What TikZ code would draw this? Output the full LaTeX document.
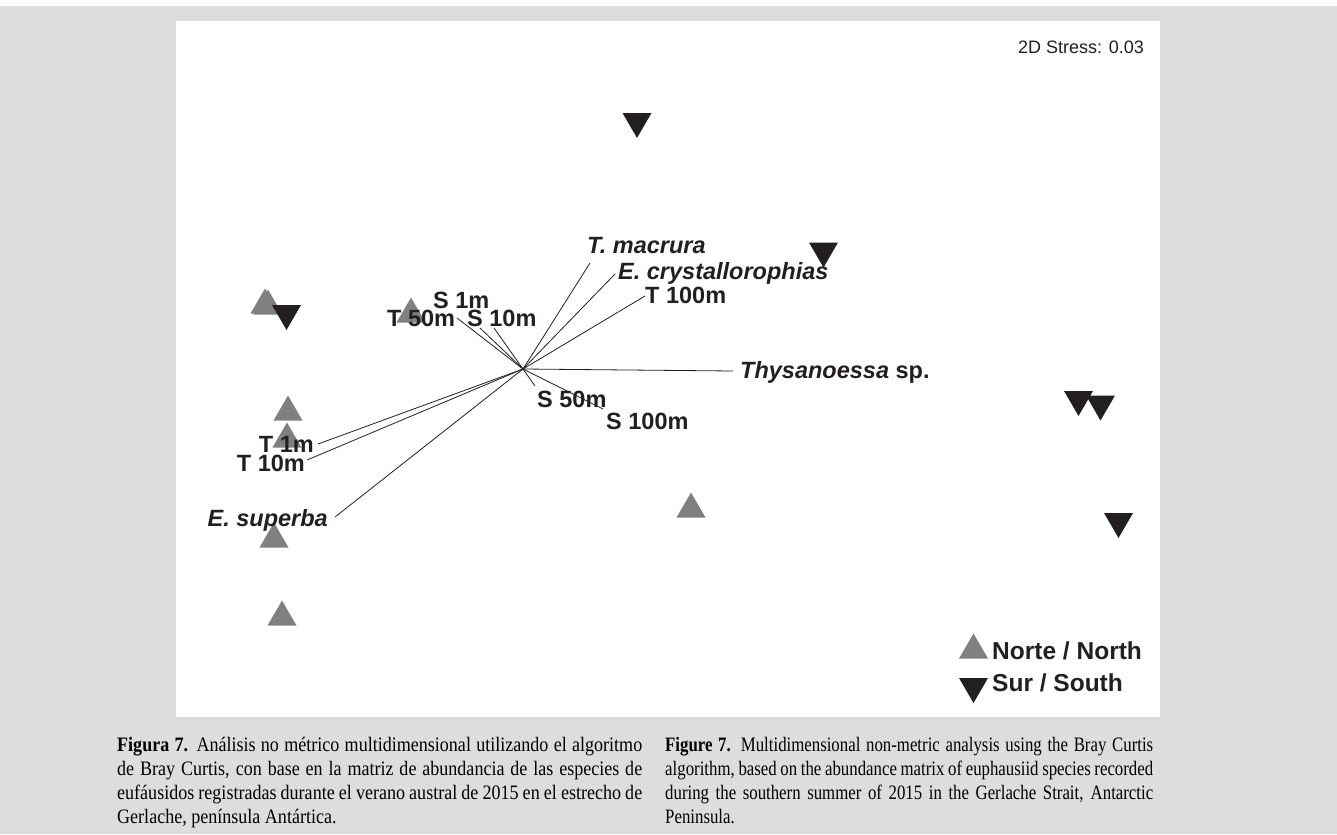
\documentclass[tikz,border=0pt]{standalone}
\usepackage{fontspec}
\setmainfont{Liberation Serif}
\setsansfont{Liberation Sans}
\newfontfamily\capfont[FakeStretch=0.88]{Liberation Serif}
\newfontfamily\capfonten[FakeStretch=0.82]{Liberation Serif}
\usetikzlibrary{calc}
\definecolor{panelgray}{RGB}{220,221,223}
\definecolor{inkblack}{RGB}{35,31,32}
\definecolor{northgray}{RGB}{128,128,128}
\tikzset{
	NT/.style={fill=northgray},
	ST/.style={fill=inkblack},
	vec/.style={draw=inkblack, line width=0.8bp}
}
\tikzset{
	VL/.style={font=\sffamily\bfseries\fontsize{23.5bp}{26bp}\selectfont, text=inkblack, inner sep=0pt},
	VI/.style={font=\sffamily\bfseries\itshape\fontsize{23.5bp}{26bp}\selectfont, text=inkblack, inner sep=0pt},
	LG/.style={font=\sffamily\bfseries\fontsize{24.5bp}{26bp}\selectfont, text=inkblack, inner sep=0pt, anchor=base west},
	CAP/.style={anchor=north west, inner sep=0pt, align=justify, text=black}
}

\begin{document}
\begin{tikzpicture}[x=1bp,y=-1bp]
		\useasboundingbox (0,0) rectangle (1337,834);
		\fill[white] (0,0) rectangle (1337,834);
		\fill[panelgray] (0,6) rectangle (1337,834);
		\fill[white] (176,21) rectangle (1160,717);
		\node[anchor=base east, inner sep=0pt, text=inkblack, font=\sffamily\fontsize{18bp}{20bp}\selectfont] (stress) at (1144,53) {2D Stress: 0.03};
		% Norte / North
		\foreach \x/\y in {265/301, 268/302, 411/310, 288/408, 287/435, 274/535, 282/613, 691/505, 973.5/646}{
			\fill[NT] (\x,\y) +(-14.5,12.5) -- +(0,-12.5) -- +(14.5,12.5) -- cycle;
		}
		% Sur / South
		\foreach \x/\y in {637/125.5, 823.5/255, 286.5/317.5, 1078.5/403.5, 1100.5/408, 1118.5/525.5, 973.5/690.5}{
			\fill[ST] (\x,\y) +(-14.5,-12.5) -- +(14.5,-12.5) -- +(0,12.5) -- cycle;
		}
		\coordinate (o) at (523,369);
		\foreach \n/\x/\y in {mac/590/263, cry/615/274, t100/645/296, thy/733/371, s50/535/386, s100/603/409, t50/457/318, s1/480/328, s10/494/328, t1/318/444, t10/307/460, sup/335/517}{
			\coordinate (\n) at (\x,\y);
			\draw[vec] (o) -- (\n);
		}
		\node[VI, anchor=base west] (lmac) at (587,253) {T. macrura};
		\node[VI, anchor=base west] (lcry) at (618,279) {E. crystallorophias};
		\node[VL, anchor=base west] (lt100) at (645,303) {T 100m};
		\node[VL, anchor=base west] (lthy) at (740,378) {\textit{Thysanoessa} sp.};
		\node[VL, anchor=base west] (ls50) at (537,407) {S 50m};
		\node[VL, anchor=base west] (ls100) at (606,429) {S 100m};
		\node[VL, anchor=base west] (ls1) at (433,308) {S 1m};
		\node[VL, anchor=base west] (ls10) at (467,326) {S 10m};
		\node[VL, anchor=base west] (lt50) at (387,326) {T 50m};
		\node[VL, anchor=base east] (lt1) at (314,452) {T 1m};
		\node[VL, anchor=base east] (lt10) at (305,471) {T 10m};
		\node[VI, anchor=base east] (lsup) at (328,526) {E. superba};
		\node[LG] (lnorte) at (992,659) {Norte / North};
		\node[LG] (lsur) at (992,691) {Sur / South};
		% pie de figura
		\node[CAP, text width=525bp, font=\capfont\fontsize{20.5bp}{24bp}\selectfont] (capes) at (117,737) {\textbf{Figura 7.} Análisis no métrico multidimensional utilizando el algoritmo\linebreak de Bray Curtis, con base en la matriz de abundancia de las especies de\linebreak eufáusidos registradas durante el verano austral de 2015 en el estrecho de\linebreak Gerlache, península Antártica.};
		\node[CAP, text width=488bp, font=\capfonten\fontsize{20.5bp}{24bp}\selectfont] (capen) at (665,737) {\hyphenpenalty=10000\relax\textbf{Figure 7.} Multidimensional non-metric analysis using the Bray Curtis\linebreak algorithm, based on the abundance matrix of euphausiid species recorded\linebreak during the southern summer of 2015 in the Gerlache Strait, Antarctic\linebreak Peninsula.};
	\end{tikzpicture}
\end{document}
